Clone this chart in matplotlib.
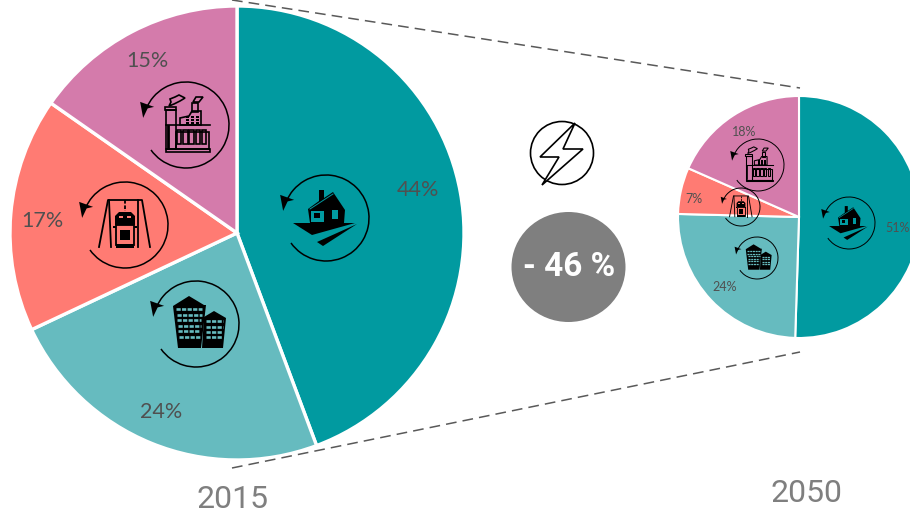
import numpy as np
import matplotlib
matplotlib.use("Agg")
import matplotlib.pyplot as plt
from matplotlib.patches import Circle, Ellipse, Polygon, Arc, Rectangle

categories = ["Residential", "Tertiary", "Transport", "Industry"]
# wedge shares; printed labels are the rounded figures
values_2015 = [44.3, 23.7, 16.7, 15.3]
values_2050 = [50.5, 24.9, 6.2, 18.4]
labels_2015 = ["44%", "24%", "17%", "15%"]
labels_2050 = ["51%", "24%", "7%", "18%"]
pie_colors = ["#019AA0", "#66BBBF", "#FF7B73", "#D47BAB"]
years = ["2015", "2050"]
reduction_label = "- 46 %"

W, H = 910, 518
fig = plt.figure(figsize=(W / 100, H / 100), dpi=100)
ax = fig.add_axes([0, 0, 1, 1])
ax.set_xlim(0, W)
ax.set_ylim(H, 0)
ax.axis("off")
ax.set_aspect("equal")


def pie(vals, c, r, lw):
    # y axis is inverted, so counterclock=True in data space renders clockwise on screen
    ax.pie(vals, colors=pie_colors, center=c, radius=r, startangle=-90,
           counterclock=True, frame=False,
           wedgeprops=dict(edgecolor="white", linewidth=lw, clip_on=False))
    ax.set_xlim(0, W)
    ax.set_ylim(H, 0)
    ax.axis("off")


pie(values_2015, (237, 233), 227, 2.4)
pie(values_2050, (799, 217), 121, 1.5)

# zoom guide lines
for x0, y0, x1, y1 in [(232, 0, 800, 88), (232, 468, 800, 352)]:
    ax.plot([x0, x1], [y0, y1], color="#595959", lw=1.1, ls=(0, (7, 4)), zorder=1)


def swirl(cx, cy, r, lw):
    ax.add_patch(Arc((cx, cy), 2 * r, 2 * r, theta1=-158, theta2=144.5,
                     color="black", lw=lw, zorder=5))
    a = np.deg2rad(-158)
    hx, hy = cx + r * np.cos(a), cy + r * np.sin(a)
    k = r / 43
    tri = np.array([[-6, -7], [8, -2], [1.5, -0.5], [-3, 9]], float) * k + [hx, hy]
    ax.add_patch(Polygon(tri, closed=True, fc="black", ec="none", zorder=6))


def P(cx, cy, k, pts, fc="black", ec="none", lw=0, z=7):
    a = np.array(pts, float) * k + [cx, cy]
    ax.add_patch(Polygon(a, closed=True, fc=fc, ec=ec, lw=lw, zorder=z))


def R(cx, cy, k, x, y, w, h, fc="black", ec="none", lw=0, z=7):
    ax.add_patch(Rectangle((cx + x * k, cy + y * k), w * k, h * k, fc=fc, ec=ec, lw=lw, zorder=z))


def house(cx, cy, k, bg):
    P(cx, cy, k, [[-33, 5], [29, 5], [-14, 17]])
    P(cx, cy, k, [[-9, 24], [31, 6], [-3, 28]])
    P(cx, cy, k, [[-18, -9], [-7, -17], [-7, -28], [-2, -28], [-2, -20], [7, -26], [19, -8], [18, 5], [-16, 5]])
    R(cx, cy, k, -15, -7, 13, 11, fc=bg, z=8)
    R(cx, cy, k, -12, -5, 6, 5, fc="black", z=9)
    R(cx, cy, k, 6, -8, 5.5, 9, fc=bg, z=8)
    ax.plot([cx - 16 * k, cx + 7 * k], [cy - 9 * k, cy - 24 * k], color=bg, lw=0.5 * k + .2, zorder=8)


def building(cx, cy, k, bg):
    P(cx, cy, k, [[-23, -18], [-7, -28], [8, -19], [10, -19], [5, 24], [-18, 24]])
    P(cx, cy, k, [[8, -7], [18, -13], [30, -6], [27, 24], [6, 24]])
    for j, y in enumerate([-15, -9, -4, 2, 7, 13]):
        ax.plot([cx + (-20 + j * .5) * k, cx + (6 - j * .4) * k], [cy + y * k] * 2,
                color=bg, lw=1.9 * k, ls=(0, (1.6, .5)), zorder=8)
    for j, y in enumerate([-3, 3, 8, 13]):
        ax.plot([cx + (10 + j * .1) * k, cx + (27 - j * .3) * k], [cy + y * k] * 2,
                color=bg, lw=1.9 * k, ls=(0, (1.6, .5)), zorder=8)


def factory(cx, cy, k, bg):
    lw = 1.1 * k + .1
    kw = dict(fc="none", ec="black", lw=lw)
    R(cx, cy, k, -20, -15, 10, 39, **kw)
    R(cx, cy, k, -21, -18, 11, 3, **kw)
    R(cx, cy, k, -20, 24, 44, 3, **kw)
    R(cx, cy, k, -10, 7, 33, 17, **kw)
    ax.plot([cx - 20 * k, cx + 24 * k], [cy + 0 * k] * 2, color="black", lw=lw, zorder=7)
    ax.plot([cx - 18 * k, cx - 18 * k], [cy + 1 * k, cy + 23 * k], color="black", lw=2 * k, zorder=7)
    for i in range(5):
        R(cx, cy, k, -9 + i * 6.2, 5, 4.4, 14, **kw)
    for i in range(3):
        for j in range(3):
            R(cx, cy, k, 0 + i * 5, -9 + j * 3, 3.4, 2.2, fc="black")
    P(cx, cy, k, [[-6, 0], [-6, -7], [3, -9], [6, -14], [15, -14], [15, 0]], **kw)
    R(cx, cy, k, 6, -22, 6, 9, **kw)
    P(cx, cy, k, [[-17, -19], [-15, -23], [-16, -26], [-11, -28], [-7, -30], [-1, -27], [-6, -24], [-12, -21]], **kw)
    P(cx, cy, k, [[7, -23], [10, -28], [17, -28], [13, -23]], **kw)


def car(cx, cy, k, bg):
    lw = 1.2 * k + .1
    ax.plot([cx - 26 * k, cx - 17 * k, cx + 17 * k, cx + 25 * k],
            [cy + 22 * k, cy - 25 * k, cy - 25 * k, cy + 22 * k], color="black", lw=lw, zorder=7)
    ax.plot([cx - 16 * k, cx - 14 * k], [cy - 25 * k, cy + 22 * k], color="black", lw=lw, zorder=7)
    ax.plot([cx + 13 * k, cx + 13 * k], [cy - 25 * k, cy + 22 * k], color="black", lw=lw, zorder=7)
    ax.plot([cx, cx], [cy - 25 * k, cy - 14 * k], color="black", lw=lw, ls=(0, (2, 1)), zorder=7)
    P(cx, cy, k, [[-10, -3], [-10, -9], [-6, -13], [6, -13], [10, -9], [10, 0], [-10, 0]])
    R(cx, cy, k, -6, -9, 4, 2, fc=bg, z=8)
    R(cx, cy, k, 2, -9, 4, 2, fc=bg, z=8)
    P(cx, cy, k, [[-9, 0], [9, 0], [9, 20], [-9, 20]], fc=bg, ec="black", lw=lw)
    R(cx, cy, k, -5, 5, 10, 10, fc="black", z=8)
    R(cx, cy, k, -9, 19, 18, 4, fc="black", z=8)
    R(cx, cy, k, -12, 1, 3, 2, fc="black", z=8)
    R(cx, cy, k, 9, 1, 3, 2, fc="black", z=8)


# (draw function, centre x, centre y, swirl radius, wedge colour)
icons = [
    (house, 326, 218, 43, pie_colors[0]), (building, 196, 324, 43, pie_colors[1]),
    (car, 125, 225, 43, pie_colors[2]), (factory, 186, 125, 43, pie_colors[3]),
    (house, 849, 223, 26, pie_colors[0]), (building, 757, 258, 21, pie_colors[1]),
    (car, 741, 207, 19, pie_colors[2]), (factory, 758, 165, 26, pie_colors[3]),
]
for fn, cx, cy, r, col in icons:
    swirl(cx, cy, r, 1.1 if r > 30 else 0.7)
    fn(cx, cy, r / 43, col)

# percentage labels
lab_font = ["Lato", "DejaVu Sans"]
lab_color = "#505050"
for (x, y), s in zip([(418, 190), (161, 412), (42, 221), (147, 61)], labels_2015):
    ax.text(x, y, s, fontsize=15.5, color=lab_color, family=lab_font, ha="center", va="center", zorder=9)
for (x, y), s in zip([(898, 228), (725, 287), (694, 199), (744, 132)], labels_2050):
    ax.text(x, y, s, fontsize=9, color=lab_color, family=lab_font, ha="center", va="center", zorder=9)

# year labels
narrow = ["Roboto", "DejaVu Sans"]
ax.text(232, 499, years[0], fontsize=23, color="#7F7F7F", family=narrow, ha="center", va="center")
ax.text(806, 494, years[1], fontsize=23, color="#7F7F7F", family=narrow, ha="center", va="center")

# energy symbol
ax.add_patch(Circle((562, 153), 31.5, fc="none", ec="black", lw=1.2))
bolt = [[575, 123], [540, 157], [559, 157], [542, 185], [583, 149], [563, 149]]
ax.add_patch(Polygon(bolt, closed=True, fc="white", ec="black", lw=1.2, zorder=3))

# reduction badge
ax.add_patch(Ellipse((568.5, 267), 114, 110, fc="#7F7F7F", ec="none"))
ax.text(569, 267, reduction_label, fontsize=24, color="white", family=narrow, weight="bold",
        ha="center", va="center")

fig.savefig("out.png", dpi=100)
